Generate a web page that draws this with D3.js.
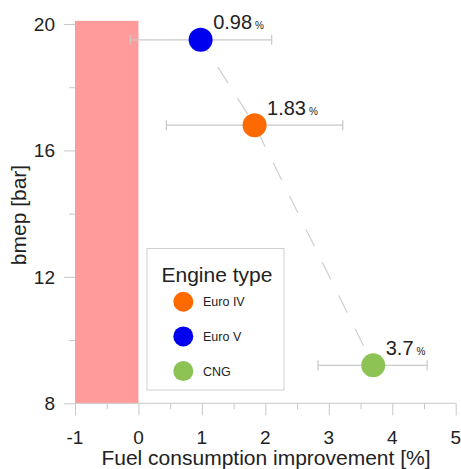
<!DOCTYPE html>
<html>
<head>
<meta charset="utf-8">
<script src="https://cdn.jsdelivr.net/npm/d3@7"></script>
<style>
  html, body { margin: 0; padding: 0; background: #fff; }
  svg { display: block; font-family: "Liberation Sans", Arial, sans-serif; }
</style>
</head>
<body>
<svg id="chart" width="461" height="469"></svg>
<script>
// ---- data ----
const engines = ["Euro IV", "Euro V", "CNG"];
const engineColors = ["#ff6a00", "#0000ee", "#8dc255"];
const improvement = [1.83, 0.98, 3.7];      // x (%)
const bmep = [16.8, 19.5, 9.2];             // y (bar)
const errLow = [0.44, -0.13, 2.83];
const errHigh = [3.22, 2.1, 4.55];
const labels = ["1.83", "0.98", "3.7"];
const trendOrder = ["Euro V", "Euro IV", "CNG"];
const band = { x0: -1, x1: 0, y0: 8, y1: 20.1 };
const xTicks = [-1, 0, 1, 2, 3, 4, 5];
const xMinorTicks = [-0.5, 0.5, 1.5, 2.5, 3.5, 4.5];
const yTicks = [8, 12, 16, 20];
const yMinorTicks = [10, 14, 18];

// ---- layout ----
const svg = d3.select("#chart");
const x = d3.scaleLinear().domain([-1, 5]).range([75, 455.7]);
const y = d3.scaleLinear().domain([8, 20]).range([403.3, 24]);
const axisColor = "#c8c8c8";
const textColor = "#222";

// red band
svg.append("rect")
  .attr("x", x(band.x0)).attr("width", x(band.x1) - x(band.x0))
  .attr("y", y(band.y1)).attr("height", y(band.y0) - y(band.y1))
  .attr("fill", "#ff5050").attr("opacity", 0.57);

// x axis
const xAxis = svg.append("g").attr("transform", `translate(0,${y(8)})`)
  .call(d3.axisBottom(x).tickValues(xTicks).tickSize(12).tickFormat(""));
const xMinor = svg.append("g").attr("transform", `translate(0,${y(8)})`)
  .call(d3.axisBottom(x).tickValues(xMinorTicks).tickSize(6).tickFormat(""));
[xAxis, xMinor].forEach(g => {
  g.select(".domain").attr("stroke", axisColor).attr("d", `M${x(-1)},0H${x(5)}`);
  g.selectAll(".tick line").attr("stroke", axisColor);
});
xMinor.select(".domain").remove();
svg.append("g").selectAll("text").data(xTicks).join("text")
  .attr("x", d => x(d)).attr("y", 444)
  .attr("text-anchor", "middle").attr("font-size", 19).attr("fill", textColor)
  .text(d => d);

// y axis
const yAxis = svg.append("g").attr("transform", `translate(${x(-1)},0)`)
  .call(d3.axisLeft(y).tickValues(yTicks).tickSize(11).tickFormat(""));
const yMinor = svg.append("g").attr("transform", `translate(${x(-1)},0)`)
  .call(d3.axisLeft(y).tickValues(yMinorTicks).tickSize(6).tickFormat(""));
[yAxis, yMinor].forEach(g => {
  g.select(".domain").remove();
  g.selectAll(".tick line").attr("stroke", axisColor);
});
svg.append("g").selectAll("text").data(yTicks).join("text")
  .attr("x", 55).attr("y", d => y(d) + 7)
  .attr("text-anchor", "end").attr("font-size", 19).attr("fill", textColor)
  .text(d => d);

// axis titles
svg.append("text").attr("x", 266).attr("y", 465)
  .attr("text-anchor", "middle").attr("font-size", 21).attr("fill", textColor)
  .text("Fuel consumption improvement [%]");
svg.append("text").attr("transform", "translate(26,215) rotate(-90)")
  .attr("text-anchor", "middle").attr("font-size", 21).attr("fill", textColor)
  .text("bmep [bar]");

// legend
const lg = svg.append("g");
lg.append("rect").attr("x", 147).attr("y", 248.5).attr("width", 137).attr("height", 141.5)
  .attr("fill", "#fff").attr("stroke", "#d0d0d0").attr("stroke-width", 1);
lg.append("text").attr("x", 161.5).attr("y", 281.5)
  .attr("font-size", 21).attr("fill", textColor).text("Engine type");
engines.forEach((e, i) => {
  const cy = 301.7 + i * 34.7;
  lg.append("circle").attr("cx", 183.3).attr("cy", cy).attr("r", 10).attr("fill", engineColors[i]);
  lg.append("text").attr("x", 203).attr("y", cy + 4.5)
    .attr("font-size", 12.5).attr("fill", textColor).text(e);
});

// dashed trend line through the points
const pts = trendOrder.map(n => {
  const i = engines.indexOf(n);
  return [improvement[i], bmep[i]];
});
svg.append("path")
  .attr("d", d3.line().x(d => x(d[0])).y(d => y(d[1]))(pts))
  .attr("fill", "none").attr("stroke", "#cfcfcf").attr("stroke-width", 1.2)
  .attr("stroke-dasharray", "19,18").attr("stroke-dashoffset", 5);

// error bars
engines.forEach((e, i) => {
  const g = svg.append("g").attr("stroke", "#c8c8c8").attr("stroke-width", 1.2);
  const cy = y(bmep[i]);
  g.append("line").attr("x1", x(errLow[i])).attr("x2", x(errHigh[i])).attr("y1", cy).attr("y2", cy);
  g.append("line").attr("x1", x(errLow[i])).attr("x2", x(errLow[i])).attr("y1", cy - 5).attr("y2", cy + 5);
  g.append("line").attr("x1", x(errHigh[i])).attr("x2", x(errHigh[i])).attr("y1", cy - 5).attr("y2", cy + 5);
});

// points
svg.append("g").selectAll("circle").data(engines).join("circle")
  .attr("cx", (d, i) => x(improvement[i])).attr("cy", (d, i) => y(bmep[i]))
  .attr("r", 12).attr("fill", (d, i) => engineColors[i]);

// value labels
engines.forEach((e, i) => {
  const t = svg.append("text")
    .attr("x", x(improvement[i]) + 12.5).attr("y", y(bmep[i]) - 10.5)
    .attr("fill", textColor);
  t.append("tspan").attr("font-size", 20).text(labels[i]);
  t.append("tspan").attr("font-size", 10).attr("dx", 3).text("%");
});
</script>
</body>
</html>
